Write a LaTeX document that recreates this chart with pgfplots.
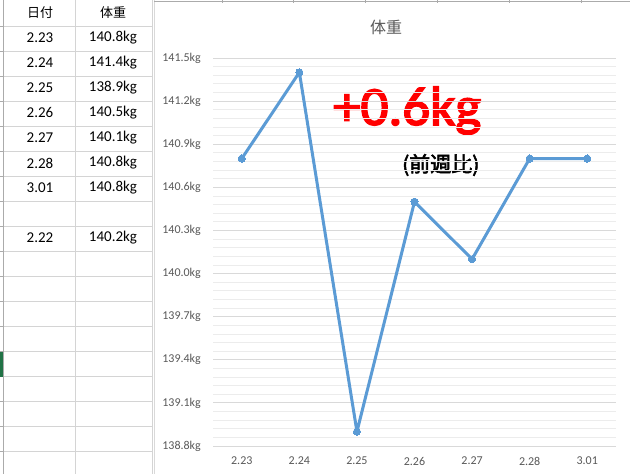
\documentclass[border=0pt]{standalone}
\usepackage{fontspec}
\setmainfont{Carlito}
\newfontfamily\jp{Noto Sans CJK JP}
\newfontfamily\jpbold[FakeBold=2.5]{Noto Sans CJK JP}
\newfontfamily\bignote[FakeBold=3]{Carlito}
\usepackage{pgfplots}
\pgfplotsset{compat=1.18}
\definecolor{exline}{HTML}{5B9BD5}
\definecolor{extext}{HTML}{595959}
\definecolor{cellgrid}{HTML}{D4D4D4}
\definecolor{majgrid}{HTML}{D9D9D9}
\definecolor{mingrid}{HTML}{ECECEC}
\definecolor{hdrline}{HTML}{ABABAB}
\definecolor{xlgreen}{HTML}{217346}
\begin{document}
\begin{tikzpicture}[x=1bp,y=1bp]
\useasboundingbox (0,0) rectangle (630,474);
\fill[white] (0,0) rectangle (630,474);
% sheet cells
\foreach \y in {26,51,...,451} {
  \draw[cellgrid,line width=0.8bp] (3,474-\y) -- (152,474-\y);
  \draw[hdrline,line width=0.8bp] (0,474-\y) -- (3,474-\y);
}
\draw[cellgrid,line width=0.8bp] (75,0) -- (75,474);
\draw[cellgrid,line width=0.8bp] (152,0) -- (152,474);
\draw[hdrline,line width=1bp] (3,0) -- (3,474);
\fill[xlgreen] (0.5,474-377) rectangle (3,474-352);
% sheet text
\node[font=\jp\fontsize{13bp}{15bp}\selectfont] at (40,461) {日付};
\node[font=\jp\fontsize{13bp}{15bp}\selectfont] at (113,461) {体重};
\foreach \d/\w [count=\i] in {2.23/140.8kg,2.24/141.4kg,2.25/138.9kg,2.26/140.5kg,2.27/140.1kg,2.28/140.8kg,3.01/140.8kg} {
  \node[font=\fontsize{15bp}{17bp}\selectfont] at (40,474-13-25*\i) {\d};
  \node[font=\fontsize{15bp}{17bp}\selectfont] at (113,474-13-25*\i) {\w};
}
\node[font=\fontsize{15bp}{17bp}\selectfont] at (40,474-13-25*9) {2.22};
\node[font=\fontsize{15bp}{17bp}\selectfont] at (113,474-13-25*9) {140.2kg};
% chart frame
\draw[majgrid,line width=0.8bp] (154.5,0) -- (154.5,474);
\draw[hdrline,line width=0.8bp] (154,473) -- (630,473);
\foreach \x in {222,293,365,437,509,581} \draw[hdrline,line width=0.8bp] (\x,474) -- (\x,471);
% title and notes
\node[text=extext,font=\jp\fontsize{16bp}{18bp}\selectfont] at (386,447) {体重};
\node[text=red,inner sep=0,anchor=base west,font=\bignote\fontsize{55bp}{60bp}\selectfont] at (333,349) {+0.6kg};
\node[inner sep=0,anchor=west,font=\jpbold\fontsize{21bp}{24bp}\selectfont] at (402,309) {(前週比)};
\begin{axis}[
at={(213bp,28bp)}, anchor=south west,
width=403bp, height=388bp, scale only axis,
xmin=-0.5, xmax=6.5,
ymin=138.8, ymax=141.5,
axis line style={draw=none},
tick style={draw=none},
ymajorgrids, yminorgrids,
minor y tick num=4,
major grid style={majgrid,line width=0.8bp},
minor grid style={mingrid,line width=0.8bp},
ytick={138.8,139.1,139.4,139.7,140.0,140.3,140.6,140.9,141.2,141.5},
yticklabels={138.8kg,139.1kg,139.4kg,139.7kg,140.0kg,140.3kg,140.6kg,140.9kg,141.2kg,141.5kg},
xtick={0,...,6},
xticklabels={2.23,2.24,2.25,2.26,2.27,2.28,3.01},
ticklabel style={text=extext,font=\fontsize{12bp}{14bp}\selectfont,inner sep=0},
yticklabel style={xshift=-12bp},
xticklabel style={yshift=-11bp},
clip=false,
]
\addplot[exline, line width=3bp, line join=round, mark=*, mark size=3.6bp, mark options={solid,fill=exline,line width=0bp}] coordinates {
(0,140.8) (1,141.4) (2,138.9) (3,140.5) (4,140.1) (5,140.8) (6,140.8)
};
\end{axis}
\end{tikzpicture}
\end{document}
